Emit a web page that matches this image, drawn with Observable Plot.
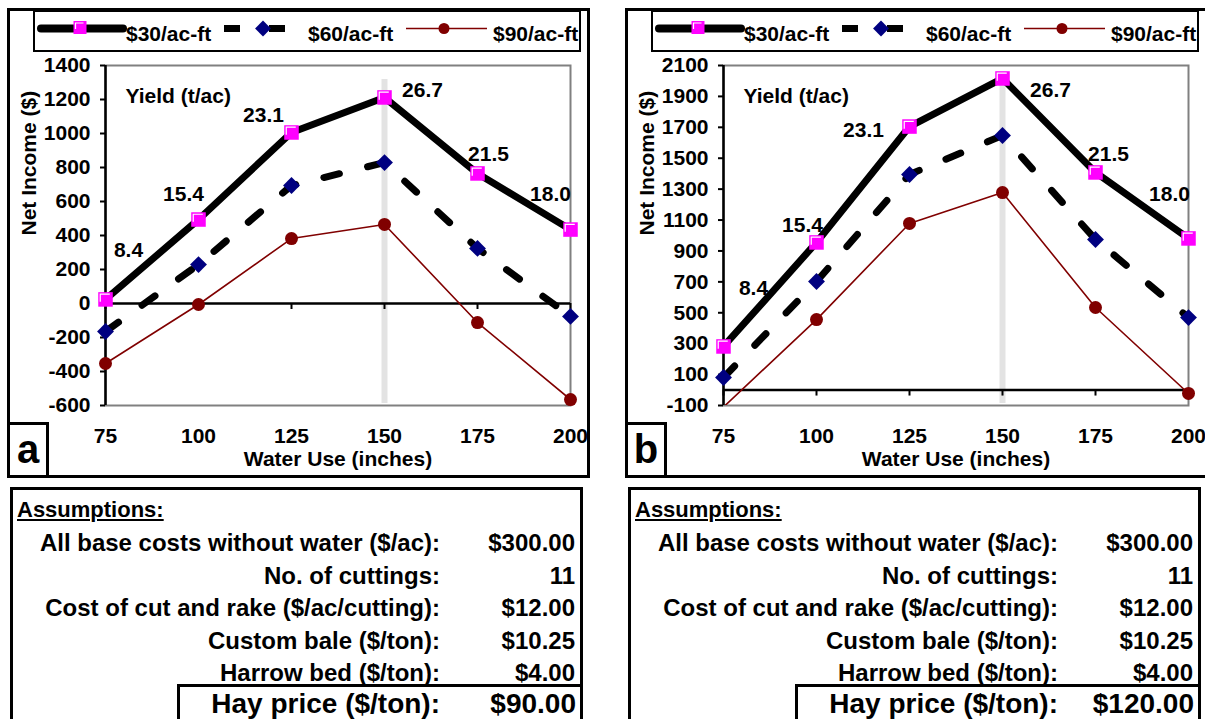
<!DOCTYPE html>
<html>
<head>
<meta charset="utf-8">
<script src="https://cdn.jsdelivr.net/npm/d3@7"></script>
<script src="https://cdn.jsdelivr.net/npm/@observablehq/plot@0.6"></script>
<style>
html, body { margin: 0; padding: 0; background: #fff; }
#root { position: relative; width: 1205px; height: 719px; overflow: hidden;
  font-family: "Liberation Sans", Arial, sans-serif; font-weight: bold; color: #000; }
.abs { position: absolute; box-sizing: border-box; }
.txt { position: absolute; white-space: nowrap; }
</style>
</head>
<body>
<div id="root"></div>
<script>
// ---------------- data ----------------
const waterUse = [75, 100, 125, 150, 175, 200];
const yieldLabels = ["8.4", "15.4", "23.1", "26.7", "21.5", "18.0"];
const seriesNames = ["$30/ac-ft", "$60/ac-ft", "$90/ac-ft"];

// panel a (hay $90/ton)
const incomeA30 = [24, 494, 1006, 1212, 765, 435];
const incomeA60 = [-165, 229, 694, 829, 324, -76];
const incomeA90 = [-353, -6, 382, 465, -112, -565];
// panel b (hay $120/ton)
const incomeB30 = [282, 955, 1705, 2016, 1408, 981];
const incomeB60 = [81, 702, 1395, 1647, 974, 469];
const incomeB90 = [-110, 456, 1078, 1278, 534, -22];

const yTicksA = [-600, -400, -200, 0, 200, 400, 600, 800, 1000, 1200, 1400];
const yTicksB = [-100, 100, 300, 500, 700, 900, 1100, 1300, 1500, 1700, 1900, 2100];

const assumptionsTitle = "Assumptions:";
const assumptionLabels = [
  "All base costs without water ($/ac):",
  "No. of cuttings:",
  "Cost of cut and rake ($/ac/cutting):",
  "Custom bale ($/ton):",
  "Harrow bed ($/ton):"
];
const assumptionValues = ["$300.00", "11", "$12.00", "$10.25", "$4.00"];
const hayPriceLabel = "Hay price ($/ton):";
const hayPrices = ["$90.00", "$120.00"];
const panelLetters = ["a", "b"];
const xTitle = "Water Use (inches)";
const yTitle = "Net Income ($)";
const yieldTitle = "Yield (t/ac)";

// ---------------- styling / layout ----------------
const FONT = "'Liberation Sans', Arial, sans-serif";
const C30 = "#000000", M30 = "#ff00ff";
const C60 = "#000000", M60 = "#000080";
const C90 = "#800000";
const DASH = "16,29";

const panels = [
  { ox: 0, letter: panelLetters[0], s30: incomeA30, s60: incomeA60, s90: incomeA90, ticks: yTicksA, hay: hayPrices[0],
    offs: [[23,-49],[-15,-25],[-28,-17],[38,-7],[11,-19],[-20,-35]] },
  { ox: 618, letter: panelLetters[1], s30: incomeB30, s60: incomeB60, s90: incomeB90, ticks: yTicksB, hay: hayPrices[1],
    offs: [[30,-58],[-14,-17],[-46,4],[48,12],[13,-18],[-19,-44]] }
];

const root = document.getElementById("root");

function addDiv(cls, css, text) {
  const d = document.createElement("div");
  d.className = cls;
  d.style.cssText = css;
  if (text != null) d.textContent = text;
  root.appendChild(d);
  return d;
}

// custom symbol: white inner corner on the square markers
const cornerSymbol = {
  draw(ctx, size) {
    const s = Math.sqrt(size) / 2 - 2;
    ctx.moveTo(-s, s - 3);
    ctx.lineTo(-s, -s);
    ctx.lineTo(s - 1, -s);
  }
};

function drawPanel(p) {
  const ox = p.ox;
  const rows = (vals, name) => waterUse.map((w, i) => ({ w, v: vals[i], s: name, label: yieldLabels[i] }));
  const r30 = rows(p.s30, seriesNames[0]);
  const r60 = rows(p.s60, seriesNames[1]);
  const r90 = rows(p.s90, seriesNames[2]);
  const y0 = p.ticks[0], y1 = p.ticks[p.ticks.length - 1];
  const inDomain = d => d.v >= y0 && d.v <= y1;

  const labelMarks = r30.map((d, i) =>
    Plot.text([d], { x: "w", y: "v", text: "label", dx: p.offs[i][0], dy: p.offs[i][1],
      textAnchor: "middle", lineAnchor: "middle", fill: "#000" })
  );

  const chart = Plot.plot({
    width: 580, height: 420,
    marginLeft: 97, marginRight: 18, marginTop: 10, marginBottom: 70,
    style: `font-family:${FONT};font-size:21px;font-weight:bold;background:transparent;overflow:visible;color:#000;`,
    x: { domain: [75, 200] },
    y: { domain: [y0, y1] },
    marks: [
      Plot.frame({ stroke: "#808080", strokeWidth: 2 }),
      Plot.ruleX([150], { stroke: "#e3e3e3", strokeWidth: 6, insetTop: 14, insetBottom: 2 }),
      Plot.ruleY([0], { stroke: "#000", strokeWidth: 2.5 }),
      Plot.ruleX(waterUse, { x: d => d, y1: 0, y2: 0, insetBottom: -6, stroke: "#000", strokeWidth: 2 }),
      Plot.ruleX([75], { stroke: "#000", strokeWidth: 2.5 }),
      Plot.axisY({ ticks: p.ticks, tickSize: 5, tickPadding: 10, tickFormat: d => String(d), strokeWidth: 2, label: null }),
      Plot.axisX({ ticks: waterUse, tickSize: 0, tickPadding: 23, tickFormat: d => String(d), label: null }),
      Plot.text([yTitle], { frameAnchor: "left", dx: -76, rotate: -90, text: d => d, fill: "#000" }),
      Plot.text([xTitle], { frameAnchor: "bottom", dy: 60, text: d => d, fill: "#000" }),
      Plot.text([yieldTitle], { frameAnchor: "top-left", dx: 20, dy: 23, textAnchor: "start", text: d => d, fill: "#000" }),
      // $30 series
      Plot.line(r30, { x: "w", y: "v", stroke: C30, strokeWidth: 7, strokeLinejoin: "round", clip: true }),
      Plot.dot(r30.filter(inDomain), { x: "w", y: "v", symbol: "square", r: 8.2, fill: M30, stroke: "none" }),
      Plot.dot(r30.filter(inDomain), { x: "w", y: "v", symbol: cornerSymbol, r: 8.2, fill: "none", stroke: "#fff", strokeWidth: 1.2 }),
      // $60 series
      Plot.line(r60, { x: "w", y: "v", stroke: C60, strokeWidth: 7, strokeDasharray: DASH, clip: true }),
      Plot.dot(r60.filter(inDomain), { x: "w", y: "v", symbol: "diamond2", r: 7.6, fill: M60, stroke: "none" }),
      // $90 series
      Plot.line(r90, { x: "w", y: "v", stroke: C90, strokeWidth: 1.6, clip: true }),
      Plot.dot(r90.filter(inDomain), { x: "w", y: "v", r: 6.5, fill: C90, stroke: "none" }),
      ...labelMarks
    ]
  });
  chart.style.position = "absolute";
  chart.style.left = (8 + ox) + "px";
  chart.style.top = "55px";
  root.appendChild(chart);

  // outer chart border
  addDiv("abs", `left:${7 + ox}px;top:8px;width:583px;height:470px;border:3px solid #000;`);
  // panel letter box
  addDiv("abs", `left:${7 + ox}px;top:422px;width:42px;height:56px;border:3px solid #000;background:#fff;
    font-size:40px;line-height:48px;text-align:center;`, p.letter);

  // legend
  const svg = d3.select(root).append("svg")
    .attr("width", 580).attr("height", 55)
    .style("position", "absolute").style("left", (8 + ox) + "px").style("top", "0px")
    .style("font-family", FONT).style("font-weight", "bold").style("font-size", "21px");
  svg.append("rect").attr("x", 26).attr("y", 11).attr("width", 546).attr("height", 40)
    .attr("fill", "#fff").attr("stroke", "#000").attr("stroke-width", 2);
  const ly = 28.5;
  // entry 1
  svg.append("line").attr("x1", 33).attr("x2", 115).attr("y1", ly).attr("y2", ly)
    .attr("stroke", C30).attr("stroke-width", 8).attr("stroke-linecap", "round");
  svg.append("path").attr("d", d3.symbol(d3.symbolSquare, 13 * 13)()).attr("transform", `translate(72,${ly - 1})`).attr("fill", M30);
  svg.append("path").attr("d", (() => { const pth = d3.path(); cornerSymbol.draw(pth, 13 * 13); return pth.toString(); })())
    .attr("transform", `translate(72,${ly - 1})`).attr("fill", "none").attr("stroke", "#fff").attr("stroke-width", 1.2);
  svg.append("text").attr("x", 118).attr("y", 41).text(seriesNames[0]);
  // entry 2
  svg.append("line").attr("x1", 216).attr("x2", 277).attr("y1", ly).attr("y2", ly)
    .attr("stroke", C60).attr("stroke-width", 7).attr("stroke-dasharray", DASH);
  svg.append("path").attr("d", d3.symbol(d3.symbolDiamond2, 16 * 16 / 1.6)()).attr("transform", `translate(255,${ly})`).attr("fill", M60);
  svg.append("text").attr("x", 300).attr("y", 41).text(seriesNames[1]);
  // entry 3
  svg.append("line").attr("x1", 398).attr("x2", 479).attr("y1", ly).attr("y2", ly)
    .attr("stroke", C90).attr("stroke-width", 1.6);
  svg.append("circle").attr("cx", 436).attr("cy", ly).attr("r", 5.5).attr("fill", C90);
  svg.append("text").attr("x", 485).attr("y", 41).text(seriesNames[2]);

  // assumptions table
  addDiv("abs", `left:${10 + ox}px;top:487px;width:573px;height:260px;border:3px solid #000;`);
  addDiv("txt", `left:${17 + ox}px;top:${510 - 13}px;font-size:22px;line-height:26px;text-decoration:underline;`, assumptionsTitle);
  const rowY = [543, 576, 608, 641, 673];
  assumptionLabels.forEach((lab, i) => {
    addDiv("txt", `left:${ox}px;width:${440}px;text-align:right;top:${rowY[i] - 14}px;font-size:24px;line-height:28px;`, lab);
    addDiv("txt", `left:${ox}px;width:${575}px;text-align:right;top:${rowY[i] - 14}px;font-size:24px;line-height:28px;`, assumptionValues[i]);
  });
  addDiv("abs", `left:${177 + ox}px;top:684px;width:406px;height:60px;border:3px solid #000;`);
  addDiv("txt", `left:${ox}px;width:440px;text-align:right;top:${704 - 15}px;font-size:28px;line-height:30px;`, hayPriceLabel);
  addDiv("txt", `left:${ox}px;width:576px;text-align:right;top:${704 - 15}px;font-size:28px;line-height:30px;`, p.hay);
}

panels.forEach(drawPanel);
</script>
</body>
</html>
